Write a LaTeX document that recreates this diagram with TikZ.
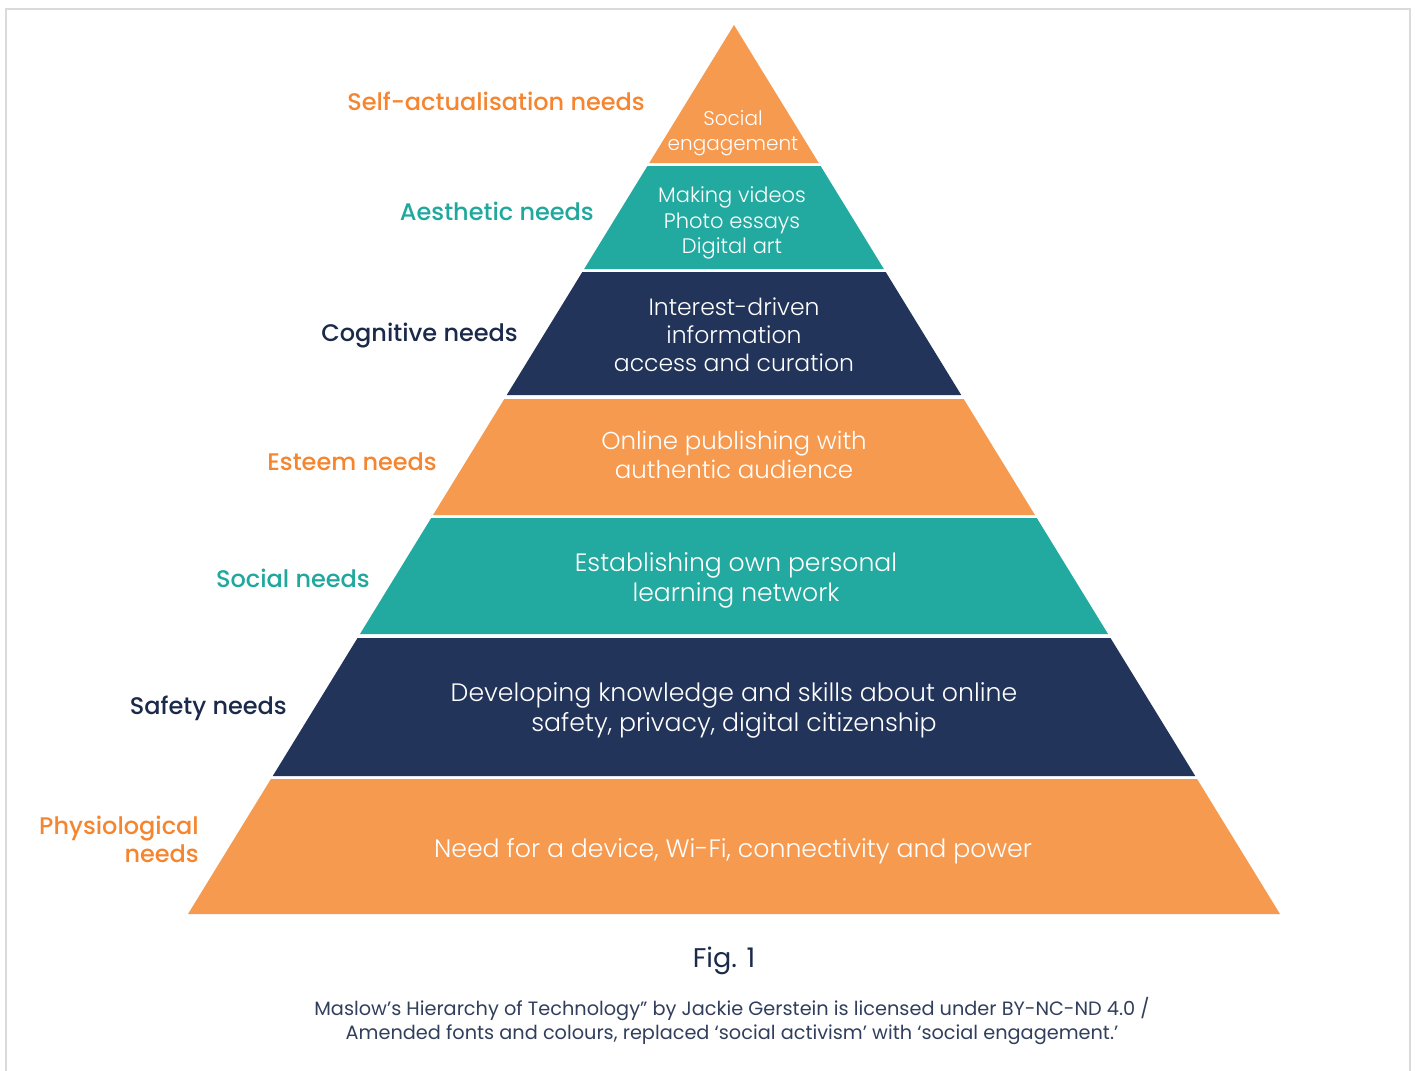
\documentclass[tikz,border=0pt]{standalone}
\usepackage{fontspec}
\setmainfont{Poppins}
\newfontfamily\poplight{Poppins Light}
\newfontfamily\popmed{Poppins Medium}
\definecolor{tierorange}{HTML}{F69A50}
\definecolor{tierteal}{HTML}{22AAA0}
\definecolor{tiernavy}{HTML}{22345A}
\definecolor{lblorange}{HTML}{F5852F}
\definecolor{lblteal}{HTML}{20A89E}
\definecolor{lblnavy}{HTML}{1B2A4A}
\definecolor{framegray}{HTML}{DADADA}
\tikzset{
  lbl/.style={anchor=east, inner sep=0pt, font=\popmed\fontsize{24}{28}\selectfont, align=right},
  tiertext/.style 2 args={text=white, inner sep=0pt, align=center, font=\poplight\fontsize{#1}{#2}\selectfont},
}
\begin{document}
\begin{tikzpicture}[x=1pt,y=-1pt]
\useasboundingbox (0,0) rectangle (1415,1070);
\fill[white] (0,0) rectangle (1415,1070);
\draw[framegray, line width=1.6pt] (6,1075) -- (6,9) -- (1410,9) -- (1410,1075);
% tiers
\foreach \ya/\yb/\c in {25/163/tierorange, 166/269/tierteal, 272/395/tiernavy, 399/515/tierorange, 518/634/tierteal, 638/776/tiernavy, 779/914/tierorange} {
  \pgfmathsetmacro\ha{(\ya-25)*0.61417}
  \pgfmathsetmacro\hb{(\yb-25)*0.61417}
  \fill[\c] ({734-\ha},\ya) -- ({734+\ha},\ya) -- ({734+\hb},\yb) -- ({734-\hb},\yb) -- cycle;
}
% tier texts
\node[tiertext={20}{25}] (t1) at (733,133) {Social\\engagement};
\node[tiertext={21}{25.5}] (t2) at (732,223) {Making videos\\Photo essays\\Digital art};
\node[tiertext={23.5}{28}] (t3) at (734,335) {Interest-driven\\information\\access and curation};
\node[tiertext={24.5}{29}] (t4) at (734,455) {Online publishing with\\authentic audience};
\node[tiertext={25.1}{30}] (t5) at (736,580) {Establishing own personal\\learning network};
\node[tiertext={25.2}{30}] (t6) at (734,710) {Developing knowledge and skills about online\\safety, privacy, digital citizenship};
\node[tiertext={25.2}{30}] (t7) at (733,851) {Need for a device, Wi-Fi, connectivity and power};
% labels
\node[lbl, text=lblorange] (l1) at (645,101) {Self-actualisation needs};
\node[lbl, text=lblteal] (l2) at (594,211) {Aesthetic needs};
\node[lbl, text=lblnavy] (l3) at (518,336) {Cognitive needs};
\node[lbl, text=lblorange] (l4) at (437,462) {Esteem needs};
\node[lbl, text=lblteal] (l5) at (370,578) {Social needs};
\node[lbl, text=lblnavy] (l6) at (287,708) {Safety needs};
\node[lbl, text=lblorange] (l7) at (199,839) {Physiological\\needs};
% caption
\node[text=lblnavy, inner sep=0pt, font=\fontsize{27}{32}\selectfont] (fig) at (724,961) {Fig. 1};
\node[text=lblnavy!90!white, inner sep=0pt, align=center, font=\fontsize{19.3}{24}\selectfont] (cap) at (732,1021) {Maslow’s Hierarchy of Technology” by Jackie Gerstein is licensed under BY-NC-ND 4.0 /\\Amended fonts and colours, replaced ‘social activism’ with ‘social engagement.’};
\end{tikzpicture}
\end{document}
